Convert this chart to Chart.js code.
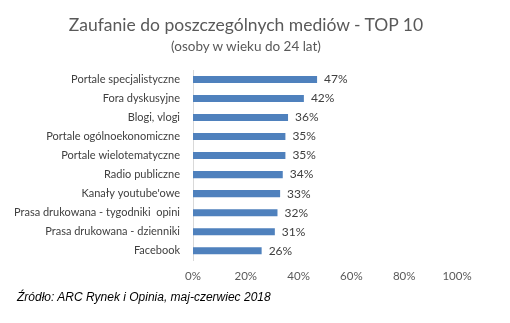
<!DOCTYPE html>
<html>
<head>
<meta charset="utf-8">
<script src="https://cdn.jsdelivr.net/npm/chart.js@4/dist/chart.umd.min.js"></script>
<style>
  html, body { margin: 0; padding: 0; background: #fff; }
  #wrap { position: relative; width: 510px; height: 323px; }
  .head {
    position: absolute; left: 0; width: 492px; text-align: center;
    font-family: Lato, "Open Sans", sans-serif; color: #595959; white-space: nowrap;
  }
  #title { top: 14px; font-size: 17.5px; line-height: 22px; }
  #subtitle { top: 37px; font-size: 13.5px; line-height: 18px; }
  #source {
    position: absolute; left: 17px; top: 290px;
    font: italic 12px "Liberation Sans", Arial, sans-serif; color: #000;
  }
</style>
</head>
<body>
<div id="wrap">
  <canvas id="mediaChart" width="510" height="323"></canvas>
  <div class="head" id="title">Zaufanie do poszczególnych mediów - TOP 10</div>
  <div class="head" id="subtitle">(osoby w wieku do 24 lat)</div>
  <div id="source">Źródło: ARC Rynek i Opinia, maj-czerwiec 2018</div>
</div>
<script>
const categories = [
    'Portale specjalistyczne',
    'Fora dyskusyjne',
    'Blogi, vlogi',
    'Portale ogólnoekonomiczne',
    'Portale wielotematyczne',
    'Radio publiczne',
    "Kanały youtube'owe",
    'Prasa drukowana - tygodniki  opini',
    'Prasa drukowana - dzienniki',
    'Facebook'
];
const trustValues = [47, 42, 36, 35, 35, 34, 33, 32, 31, 26];
const xTicks = [0, 20, 40, 60, 80, 100];

const labelFont = 'Lato, "Open Sans", sans-serif';

// value labels at the end of each bar
const valueLabels = {
    id: 'valueLabels',
    afterDatasetsDraw(chart) {
        const ctx = chart.ctx;
        const meta = chart.getDatasetMeta(0);
        ctx.save();
        ctx.fillStyle = '#404040';
        ctx.font = '12px ' + labelFont;
        ctx.textBaseline = 'middle';
        ctx.textAlign = 'left';
        meta.data.forEach((bar, i) => {
            ctx.fillText(trustValues[i] + '%', bar.x + 7, bar.y);
        });
        ctx.restore();
    }
};

const ctx = document.getElementById('mediaChart').getContext('2d');
new Chart(ctx, {
    type: 'bar',
    data: {
        labels: categories,
        datasets: [{
            data: trustValues,
            backgroundColor: '#4f81bd',
            barPercentage: 0.37,
            categoryPercentage: 1
        }]
    },
    options: {
        indexAxis: 'y',
        responsive: false,
        animation: false,
        layout: { padding: { top: 70, right: 53, bottom: 39, left: 0 } },
        plugins: {
            legend: { display: false },
            tooltip: { enabled: false }
        },
        scales: {
            x: {
                min: 0,
                max: 100,
                afterBuildTicks(scale) {
                    scale.ticks = xTicks.map(v => ({ value: v }));
                },
                ticks: {
                    color: '#595959',
                    font: { family: labelFont, size: 11.5 },
                    callback: v => v + '%',
                    padding: 1
                },
                grid: { display: false },
                border: { display: false }
            },
            y: {
                afterFit(scale) { scale.width = 193; },
                ticks: {
                    color: '#404040',
                    font: { family: labelFont, size: 11 },
                    padding: 5,
                    autoSkip: false
                },
                grid: { display: false },
                border: { display: true, color: '#d9d9d9' }
            }
        }
    },
    plugins: [valueLabels]
});
</script>
</body>
</html>
